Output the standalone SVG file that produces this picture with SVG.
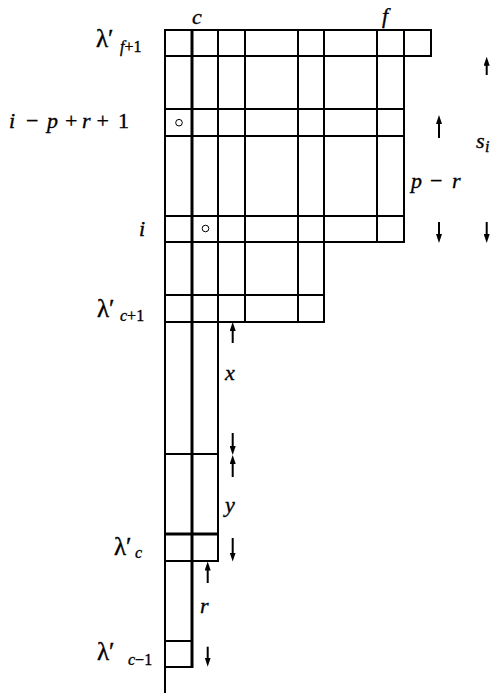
<svg xmlns="http://www.w3.org/2000/svg" width="490" height="693" viewBox="0 0 490 693">
<style>
.g{stroke:#000;stroke-width:2;fill:none}
.t{stroke:#000;stroke-width:3;fill:none}
.a{stroke:#000;stroke-width:2;fill:none;marker-end:url(#ah)}
text{font-size:22px;fill:#000;stroke:#000;stroke-width:0.35}
.it{font-style:italic}
.lam{font-size:25px}
.sub{font-size:16px}
</style>
<defs>
<marker id="ah" markerUnits="userSpaceOnUse" viewBox="0 0 9 6" refX="3" refY="3" markerWidth="9" markerHeight="6" orient="auto">
<path d="M0,0 L9,3 L0,6 z" fill="#000"/>
</marker>
</defs>
<rect width="490" height="693" fill="#fff"/>
<g id="diagram">
<g id="h-lines">
<path class="g" d="M165,30H431 M165,56H431 M165,109H404 M165,136H404 M165,216H404 M165,242H404 M165,295H324 M165,322H324 M165,454H218 M165,561H218 M165,641H192 M165,667H192"/>
<path class="t" d="M165,534H218"/>
</g>
<g id="v-lines">
<path class="g" d="M165,29V693 M218,29V562 M245,29V323 M298,29V323 M324,29V323 M377,29V243 M404,29V243 M431,29V57"/>
<path class="t" d="M192,29V668"/>
</g>
<g id="marks">
<circle cx="179" cy="122.7" r="3.3" fill="none" stroke="#000" stroke-width="1"/>
<circle cx="205.5" cy="228.5" r="3.3" fill="none" stroke="#000" stroke-width="1"/>
</g>
</g>
<g id="connectors">
<line class="a" x1="486.7" y1="75" x2="486.7" y2="62.7"/>
<line class="a" x1="439" y1="138" x2="439" y2="121"/>
<line class="a" x1="439" y1="222" x2="439" y2="237"/>
<line class="a" x1="486.7" y1="222" x2="486.7" y2="237"/>
<line class="a" x1="232.7" y1="343" x2="232.7" y2="328"/>
<line class="a" x1="232.7" y1="433" x2="232.7" y2="449"/>
<line class="a" x1="232.7" y1="477" x2="232.7" y2="461"/>
<line class="a" x1="232.7" y1="538" x2="232.7" y2="555.5"/>
<line class="a" x1="207.7" y1="583" x2="207.7" y2="567.5"/>
<line class="a" x1="207.7" y1="646.7" x2="207.7" y2="660.7"/>
</g>
<g id="labels" font-family="Liberation Serif, serif">
<g id="lab-f1"><text x="96" y="47" class="lam">λ′</text><text x="120" y="52" class="sub"><tspan class="it">f</tspan>+1</text></g>
<g id="lab-c"><text x="192" y="24" class="it">c</text></g>
<g id="lab-f"><text x="382" y="23" class="it">f</text></g>
<g id="lab-iprp"><text y="128"><tspan x="9" class="it">i</tspan><tspan x="26">−</tspan><tspan x="47" class="it">p</tspan><tspan x="65">+</tspan><tspan x="82" class="it">r</tspan><tspan x="96.5">+</tspan><tspan x="118">1</tspan></text></g>
<g id="lab-i"><text x="139" y="236" class="it">i</text></g>
<g id="lab-c1"><text x="97" y="317" class="lam">λ′</text><text x="120" y="321" class="sub"><tspan class="it">c</tspan>+1</text></g>
<g id="lab-x"><text x="225" y="380" class="it">x</text></g>
<g id="lab-y"><text x="225" y="512" class="it">y</text></g>
<g id="lab-cc"><text x="114" y="555" class="lam">λ′</text><text x="135" y="558" class="sub it">c</text></g>
<g id="lab-r"><text x="200" y="613" class="it">r</text></g>
<g id="lab-cm1"><text x="97" y="660" class="lam">λ′</text><text x="128" y="665" class="sub"><tspan class="it">c</tspan>−1</text></g>
<g id="lab-pr"><text y="188"><tspan x="411" class="it">p</tspan><tspan x="430">−</tspan><tspan x="452" class="it">r</tspan></text></g>
<g id="lab-s"><text x="476" y="148" class="it">s</text><text x="485" y="152" class="sub it">i</text></g>
</g>
</svg>
